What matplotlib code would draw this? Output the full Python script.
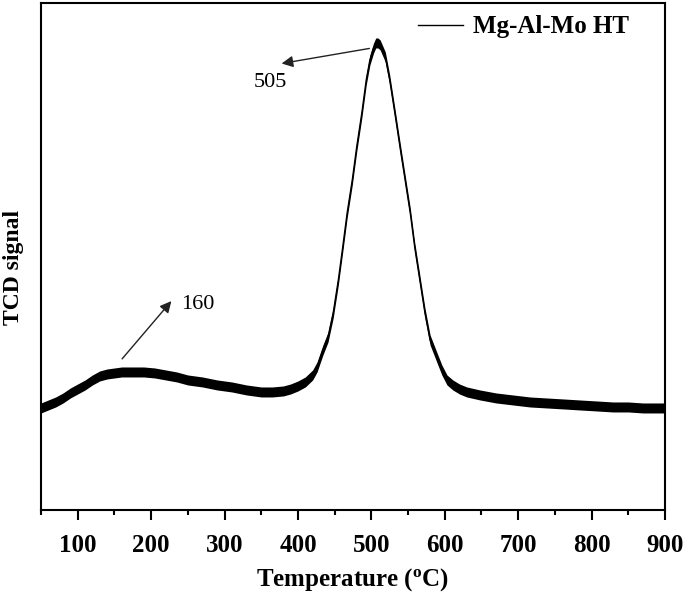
import matplotlib
matplotlib.use('Agg')
import matplotlib.pyplot as plt
import numpy as np

# TPD profile (signal in arbitrary units)
temp = [50, 60, 70, 80, 90, 100, 110, 120, 130, 140, 150, 160, 175, 190, 205,
        220, 235, 250, 270, 290, 310, 330, 350, 365, 380, 390, 400, 410, 420,
        426, 434, 441, 448, 455, 461, 467, 474, 480, 487, 493, 498, 503, 506,
        509, 512, 519, 525, 532, 539, 546, 553, 559, 566, 573, 580, 589, 596,
        603, 611, 620, 630, 648, 670, 693, 716, 739, 762, 784, 807, 829, 850,
        870, 893, 900]
signal = [102, 105, 108, 112, 117, 121, 125, 130, 134, 136, 137, 138, 138, 138,
          137, 135, 133, 130, 128, 125, 123, 120, 118, 118, 119, 121, 124, 128,
          135, 143, 160, 173, 197, 230, 263, 297, 330, 363, 397, 430, 450, 462,
          467, 467, 465, 453, 430, 397, 363, 330, 297, 263, 230, 197, 170, 153,
          140, 130, 125, 121, 118, 115, 112, 110, 108, 107, 106, 105, 104, 103,
          103, 102, 102, 102]
noise = 5  # half-width of the noisy band

peak_labels = ['505', '160']
peak_tail = [(501, 462), (158, 149)]
peak_tip = [(374, 446), (230, 211)]
peak_text = [(362, 427), (241, 205)]

plt.rcParams['font.family'] = ['Liberation Serif', 'DejaVu Serif']

fig = plt.figure(figsize=(6.85, 5.95), dpi=100)
ax = fig.add_axes([0.0599, 0.1429, 0.9109, 0.8521])

t = np.array(temp)
s = np.array(signal)
ax.fill_between(t, s - noise, s + noise, color='black', lw=0)
ax.plot(t, s, color='black', lw=1.0, label='Mg-Al-Mo HT')

for lab, tail, tip, txt in zip(peak_labels, peak_tail, peak_tip, peak_text):
    ax.annotate('', xy=tip, xytext=tail,
                arrowprops=dict(arrowstyle='-|>', color='#222222', lw=1,
                                mutation_scale=17))
    ha = 'center' if lab == '505' else 'left'
    ax.text(txt[0], txt[1], lab, fontsize=16, ha=ha, va='center')

ax.set_xlim(50, 900)
ax.set_ylim(0, 507)
ax.set_xticks(range(100, 901, 100))
ax.set_xticks(range(50, 901, 100), minor=True)
ax.set_yticks([])
ax.tick_params(axis='x', which='major', direction='out', length=7, width=1.5,
               labelsize=18, pad=10)
ax.tick_params(axis='x', which='minor', direction='out', length=3.5, width=1.5)
for lab in ax.get_xticklabels():
    lab.set_fontweight('bold')
for sp in ax.spines.values():
    sp.set_linewidth(1.5)

ax.set_xlabel('Temperature ($\\mathregular{^{o}}$C)', fontsize=18,
              fontweight='bold', labelpad=7)
ax.set_ylabel('TCD signal', fontsize=17, fontweight='bold')
ax.yaxis.set_label_coords(-0.028, 0.479)

ax.legend(loc='center right', bbox_to_anchor=(0.943, 0.953), frameon=False,
          prop={'size': 18, 'weight': 'bold'}, handlelength=1.8,
          handletextpad=0.4, borderaxespad=0, borderpad=0)

fig.savefig('out.png', dpi=100)
